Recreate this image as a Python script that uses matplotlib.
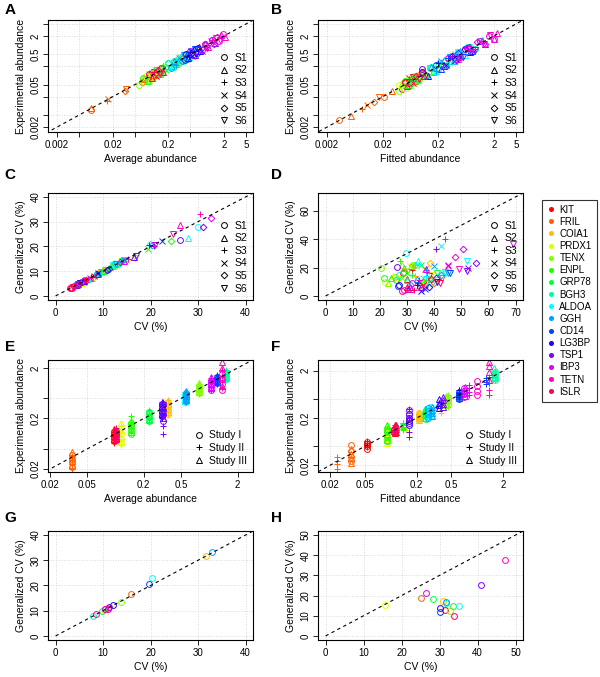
import numpy as np
import matplotlib.pyplot as plt
from matplotlib.lines import Line2D
from matplotlib.ticker import NullLocator

plt.rcParams['font.family'] = ['Liberation Sans', 'DejaVu Sans']

proteins = ['KIT', 'FRIL', 'COIA1', 'PRDX1', 'TENX', 'ENPL', 'GRP78', 'BGH3',
            'ALDOA', 'GGH', 'CD14', 'LG3BP', 'TSP1', 'IBP3', 'TETN', 'ISLR']
colors = ['#FF0000', '#FF6000', '#FFBF00', '#DFFF00', '#80FF00', '#20FF00',
          '#00FF40', '#00FF9F', '#00FFFF', '#009FFF', '#0040FF', '#2000FF',
          '#8000FF', '#DF00FF', '#FF00BF', '#FF0060']
samples = ['S1', 'S2', 'S3', 'S4', 'S5', 'S6']
studies = ['Study I', 'Study II', 'Study III']

# panel A: average vs experimental abundance (8 points per protein, samples cycle)
A_x = [[0.085, 0.09, 0.095, 0.1, 0.105, 0.11, 0.12, 0.13],
       [0.0081, 0.0083, 0.016, 0.0165, 0.034, 0.035, 0.066, 0.072],
       [0.3, 0.33, 0.36, 0.4, 0.44, 0.34, 0.38, 0.42],
       [0.08, 0.09, 0.1, 0.11, 0.12, 0.13, 0.095, 0.14],
       [0.06, 0.07, 0.08, 0.09, 0.1, 0.12, 0.14, 0.16],
       [0.07, 0.085, 0.1, 0.12, 0.14, 0.17, 0.2, 0.24],
       [0.12, 0.14, 0.16, 0.18, 0.2, 0.22, 0.25, 0.28],
       [0.25, 0.28, 0.3, 0.33, 0.36, 0.4, 0.44, 0.5],
       [0.2, 0.23, 0.26, 0.3, 0.34, 0.38, 0.42, 0.48],
       [0.22, 0.25, 0.28, 0.31, 0.35, 0.39, 0.43, 0.47],
       [0.4, 0.44, 0.48, 0.52, 0.56, 0.6, 0.65, 0.7],
       [0.42, 0.46, 0.5, 0.54, 0.58, 0.62, 0.68, 0.74],
       [0.5, 0.6, 0.7, 0.8, 0.9, 1.0, 1.2, 1.4],
       [0.8, 0.9, 1.0, 1.15, 1.3, 1.45, 1.6, 1.8],
       [0.9, 1.05, 1.2, 1.35, 1.5, 1.7, 1.9, 2.1],
       [0.09, 0.1, 0.11, 0.12, 0.13, 0.14, 0.15, 0.16]]
A_y = [[0.07, 0.11, 0.085, 0.12, 0.09, 0.135, 0.105, 0.15],
       [0.0076, 0.0086, 0.015, 0.017, 0.032, 0.036, 0.063, 0.074],
       [0.24, 0.4, 0.3, 0.5, 0.38, 0.27, 0.47, 0.34],
       [0.1, 0.07, 0.125, 0.088, 0.15, 0.105, 0.078, 0.17],
       [0.05, 0.085, 0.065, 0.115, 0.08, 0.15, 0.115, 0.2],
       [0.085, 0.068, 0.125, 0.1, 0.17, 0.135, 0.25, 0.2],
       [0.15, 0.11, 0.2, 0.15, 0.25, 0.18, 0.3, 0.24],
       [0.2, 0.33, 0.25, 0.4, 0.3, 0.48, 0.37, 0.6],
       [0.25, 0.19, 0.32, 0.25, 0.42, 0.31, 0.52, 0.4],
       [0.18, 0.3, 0.23, 0.37, 0.29, 0.46, 0.36, 0.56],
       [0.33, 0.52, 0.4, 0.63, 0.46, 0.74, 0.55, 0.85],
       [0.5, 0.37, 0.6, 0.45, 0.7, 0.52, 0.8, 0.62],
       [0.62, 0.48, 0.85, 0.65, 1.1, 0.82, 1.45, 1.15],
       [0.68, 1.05, 0.85, 1.35, 1.1, 1.7, 1.35, 2.1],
       [1.1, 0.85, 1.45, 1.15, 1.8, 1.45, 2.3, 1.85],
       [0.11, 0.08, 0.13, 0.1, 0.155, 0.115, 0.18, 0.13]]

# panel B: fitted vs experimental abundance
B_x = [[0.045, 0.05, 0.055, 0.06, 0.065, 0.07, 0.08, 0.09],
       [0.0033, 0.0055, 0.0085, 0.0105, 0.014, 0.017, 0.021, 0.03],
       [0.2, 0.25, 0.3, 0.35, 0.4, 0.45, 0.5, 0.55],
       [0.04, 0.05, 0.06, 0.07, 0.08, 0.09, 0.1, 0.12],
       [0.04, 0.045, 0.05, 0.06, 0.07, 0.08, 0.09, 0.11],
       [0.05, 0.06, 0.07, 0.085, 0.1, 0.12, 0.14, 0.16],
       [0.06, 0.07, 0.085, 0.1, 0.12, 0.14, 0.17, 0.2],
       [0.2, 0.25, 0.3, 0.4, 0.5, 0.7, 0.9, 1.2],
       [0.15, 0.18, 0.22, 0.26, 0.3, 0.35, 0.45, 0.6],
       [0.12, 0.15, 0.18, 0.22, 0.27, 0.33, 0.4, 0.5],
       [0.18, 0.22, 0.3, 0.38, 0.45, 0.55, 0.65, 0.8],
       [0.1, 0.13, 0.2, 0.28, 0.35, 0.45, 0.6, 0.75],
       [0.1, 0.25, 0.35, 0.5, 0.7, 0.9, 1.1, 1.4],
       [0.3, 0.45, 0.6, 0.8, 1.0, 1.3, 1.6, 2.0],
       [0.5, 0.7, 0.9, 1.1, 1.4, 1.7, 2.0, 2.3],
       [0.05, 0.055, 0.06, 0.07, 0.08, 0.09, 0.1, 0.11]]
B_y = [[0.035, 0.065, 0.045, 0.08, 0.055, 0.09, 0.065, 0.115],
       [0.0035, 0.0048, 0.0078, 0.011, 0.0135, 0.019, 0.02, 0.032],
       [0.16, 0.33, 0.24, 0.46, 0.32, 0.6, 0.4, 0.72],
       [0.05, 0.04, 0.075, 0.055, 0.1, 0.07, 0.13, 0.095],
       [0.032, 0.058, 0.04, 0.078, 0.055, 0.1, 0.07, 0.14],
       [0.065, 0.048, 0.09, 0.07, 0.13, 0.095, 0.18, 0.13],
       [0.05, 0.09, 0.068, 0.13, 0.095, 0.18, 0.135, 0.26],
       [0.16, 0.32, 0.24, 0.52, 0.4, 0.9, 0.72, 1.5],
       [0.19, 0.14, 0.28, 0.2, 0.38, 0.27, 0.58, 0.48],
       [0.095, 0.19, 0.14, 0.29, 0.21, 0.42, 0.31, 0.62],
       [0.23, 0.17, 0.38, 0.3, 0.57, 0.42, 0.82, 0.65],
       [0.13, 0.1, 0.25, 0.22, 0.45, 0.35, 0.75, 0.6],
       [0.17, 0.2, 0.45, 0.4, 0.9, 0.7, 1.4, 1.1],
       [0.38, 0.36, 0.78, 0.62, 1.3, 1.05, 2.0, 1.6],
       [0.4, 0.85, 0.72, 1.35, 1.1, 2.1, 1.6, 2.5],
       [0.06, 0.045, 0.075, 0.058, 0.1, 0.075, 0.125, 0.095]]

# panel C: CV vs generalized CV (one value per sample S1..S6)
C_x = [[3.5, 4.2, 5.0, 5.8, 6.5, 4.8], [6.2, 7.5, 8.8, 10.5, 12.0, 9.5],
       [9.0, 11.5, 13.5, 14.8, 10.2, 12.5], [4.0, 5.5, 7.0, 13.8, 15.0, 12.6],
       [7.8, 9.5, 11.0, 12.8, 14.2, 16.8], [10.5, 11.8, 12.5, 19.4, 24.3, 13.2],
       [8.5, 10.0, 11.5, 12.2, 13.0, 14.0], [5.0, 6.8, 9.0, 12.0, 13.5, 14.5],
       [30.0, 27.8, 9.3, 13.0, 19.8, 12.0], [8.8, 9.0, 13.8, 14.5, 20.3, 12.8],
       [5.5, 8.7, 19.6, 22.4, 11.2, 6.2], [4.5, 6.0, 7.5, 9.0, 10.8, 5.2],
       [26.2, 16.5, 20.7, 4.6, 31.0, 16.9], [3.8, 14.3, 15.2, 7.2, 32.8, 20.9],
       [3.2, 26.2, 30.5, 6.5, 13.5, 24.8], [3.0, 4.8, 6.4, 8.0, 5.8, 3.6]]
C_y = [[3.4, 4.3, 5.1, 5.7, 6.6, 4.9], [6.3, 7.4, 9.0, 10.4, 12.2, 9.7],
       [9.1, 11.8, 13.6, 14.5, 10.4, 12.8], [4.2, 5.4, 7.1, 14.0, 14.6, 12.4],
       [7.6, 9.6, 11.2, 12.5, 14.0, 15.5], [10.6, 11.9, 12.2, 18.8, 22.2, 13.0],
       [8.4, 10.2, 11.4, 12.3, 12.8, 14.1], [5.1, 6.9, 8.8, 12.1, 13.4, 14.4],
       [28.0, 23.5, 9.1, 13.2, 21.0, 12.3], [8.9, 8.8, 13.6, 14.6, 20.5, 13.0],
       [5.6, 8.9, 20.5, 22.0, 11.0, 6.0], [4.6, 6.1, 7.6, 9.2, 10.6, 5.3],
       [22.7, 15.8, 20.0, 4.5, 28.0, 16.0], [3.9, 14.2, 15.0, 7.3, 31.5, 20.5],
       [3.3, 28.5, 33.0, 6.6, 13.8, 25.0], [3.1, 4.7, 6.3, 8.1, 5.9, 3.5]]

# panel D
D_x = [[28.5, 30, 32, 34.5, 36, 38], [29, 31.5, 33, 36.5, 40, 43],
       [25.5, 28, 33, 36, 38.5, 41], [22, 25, 27, 31, 35, 39],
       [20.5, 23, 26.5, 28, 32, 35], [21.5, 24, 27.5, 30, 33, 37],
       [26, 29, 32, 35, 38, 41], [27, 30, 33, 36, 39, 44],
       [29.7, 34, 37, 42.5, 44, 52.2], [31, 33.5, 37, 40, 42.5, 45],
       [26.5, 31, 34, 36.5, 40.5, 46], [27, 30.5, 33.5, 35, 38, 41],
       [26.2, 35, 40.7, 52.6, 55.5, 52], [32, 37, 44, 45, 50.7, 69],
       [29, 31.5, 34.5, 45, 47.7, 49], [28, 30, 32.5, 36, 39, 42]]
D_y = [[16, 12, 18, 7, 10, 14], [17, 21, 14, 19, 9, 13],
       [13.5, 22, 14, 10, 23, 11], [10, 14, 12, 21, 6, 15],
       [19.5, 9.5, 12, 13, 22, 8], [12.5, 13, 25, 16, 22, 9],
       [11, 20, 15, 22, 12, 16], [15, 11, 22, 13, 9, 17],
       [30.5, 25, 14, 35, 16, 24.8], [8, 12, 18, 21, 15, 16],
       [7, 6, 9, 5, 13, 16.5], [7.5, 5, 8, 3.5, 6, 10],
       [20.7, 6, 33.3, 20, 23, 17.7], [9, 19, 40, 21, 33, 37],
       [4, 5, 11, 22, 27.6, 19], [3.5, 6, 4.5, 8, 12, 9]]

# panel E: average abundance per protein, 12 replicates (4 per study)
E_x = [0.097, 0.034, 0.36, 0.115, 0.78, 0.147, 0.23, 1.5,
       0.55, 0.57, 1.22, 0.31, 0.32, 1.05, 1.36, 0.1]
E_y = [[0.072, 0.085, 0.098, 0.11, 0.066, 0.08, 0.095, 0.12, 0.078, 0.09, 0.104, 0.125],
       [0.022, 0.027, 0.032, 0.038, 0.02, 0.025, 0.03, 0.036, 0.024, 0.029, 0.034, 0.043],
       [0.25, 0.3, 0.36, 0.42, 0.23, 0.28, 0.34, 0.46, 0.27, 0.32, 0.38, 0.44],
       [0.065, 0.08, 0.1, 0.13, 0.06, 0.075, 0.11, 0.15, 0.07, 0.09, 0.12, 0.165],
       [0.65, 0.72, 0.8, 0.88, 0.62, 0.7, 0.85, 0.95, 0.68, 0.76, 0.9, 1.0],
       [0.1, 0.12, 0.14, 0.16, 0.105, 0.13, 0.17, 0.22, 0.11, 0.125, 0.15, 0.18],
       [0.18, 0.21, 0.24, 0.27, 0.17, 0.2, 0.25, 0.29, 0.19, 0.22, 0.23, 0.28],
       [1.2, 1.35, 1.5, 1.65, 1.15, 1.3, 1.6, 1.85, 1.25, 1.4, 1.55, 1.75],
       [0.42, 0.5, 0.56, 0.62, 0.4, 0.47, 0.58, 0.66, 0.45, 0.52, 0.6, 0.64],
       [0.44, 0.52, 0.58, 0.65, 0.42, 0.5, 0.6, 0.68, 0.46, 0.55, 0.62, 0.7],
       [1.0, 1.1, 1.22, 1.35, 0.98, 1.15, 1.28, 1.45, 1.05, 1.18, 1.3, 1.4],
       [0.22, 0.27, 0.32, 0.38, 0.2, 0.25, 0.3, 0.42, 0.24, 0.29, 0.35, 0.4],
       [0.18, 0.24, 0.3, 0.38, 0.1, 0.14, 0.22, 0.42, 0.2, 0.27, 0.33, 0.4],
       [0.75, 0.85, 0.98, 1.1, 0.72, 0.9, 1.05, 1.25, 0.8, 0.95, 1.15, 1.3],
       [0.75, 0.95, 1.2, 1.5, 0.8, 1.05, 1.4, 1.8, 0.9, 1.3, 2.0, 2.6],
       [0.075, 0.088, 0.1, 0.115, 0.07, 0.085, 0.105, 0.13, 0.08, 0.092, 0.11, 0.12]]

# panel F: fitted abundance per protein and study, 4 replicates per study
F_x = [[0.053, 0.053, 0.113], [0.035, 0.024, 0.035], [0.21, 0.38, 0.21],
       [0.09, 0.15, 0.09], [0.46, 0.46, 0.44], [0.09, 0.138, 0.092],
       [0.255, 0.14, 0.25], [1.6, 1.6, 1.58], [0.29, 0.27, 0.28],
       [0.27, 0.61, 0.3], [0.61, 1.28, 0.62], [0.164, 0.62, 0.36],
       [0.164, 0.164, 0.4], [0.7, 0.8, 0.72], [1.0, 1.37, 1.37],
       [0.11, 0.113, 0.115]]
F_y = [[0.045, 0.05, 0.056, 0.062, 0.048, 0.055, 0.06, 0.065, 0.095, 0.105, 0.12, 0.14],
       [0.025, 0.03, 0.04, 0.055, 0.017, 0.021, 0.025, 0.03, 0.022, 0.028, 0.034, 0.045],
       [0.19, 0.21, 0.23, 0.26, 0.25, 0.3, 0.38, 0.46, 0.18, 0.2, 0.22, 0.25],
       [0.07, 0.085, 0.1, 0.12, 0.11, 0.13, 0.15, 0.17, 0.06, 0.08, 0.11, 0.14],
       [0.4, 0.45, 0.5, 0.55, 0.35, 0.42, 0.5, 0.6, 0.38, 0.44, 0.52, 0.58],
       [0.065, 0.08, 0.1, 0.12, 0.11, 0.125, 0.14, 0.155, 0.07, 0.09, 0.115, 0.14],
       [0.19, 0.22, 0.26, 0.3, 0.12, 0.13, 0.15, 0.16, 0.2, 0.24, 0.28, 0.31],
       [1.25, 1.4, 1.6, 1.85, 1.3, 1.5, 1.7, 2.0, 1.4, 1.6, 1.9, 2.3],
       [0.22, 0.26, 0.3, 0.34, 0.2, 0.24, 0.28, 0.32, 0.23, 0.27, 0.31, 0.35],
       [0.2, 0.24, 0.28, 0.33, 0.55, 0.62, 0.7, 0.8, 0.22, 0.26, 0.3, 0.34],
       [0.5, 0.56, 0.62, 0.7, 1.05, 1.15, 1.25, 1.4, 0.52, 0.58, 0.66, 0.75],
       [0.14, 0.17, 0.2, 0.24, 0.55, 0.6, 0.68, 0.78, 0.32, 0.37, 0.42, 0.5],
       [0.16, 0.2, 0.24, 0.3, 0.08, 0.1, 0.2, 0.31, 0.34, 0.4, 0.48, 0.57],
       [0.55, 0.65, 0.75, 0.85, 0.6, 0.7, 0.85, 1.0, 0.58, 0.68, 0.78, 0.9],
       [0.6, 0.75, 0.95, 1.2, 0.62, 0.8, 1.1, 1.5, 1.3, 1.9, 2.5, 3.1],
       [0.095, 0.1, 0.11, 0.12, 0.1, 0.11, 0.125, 0.14, 0.1, 0.115, 0.13, 0.14]]

# panels G and H: one point per protein
G_x = [10.5, 15.9, 31.7, 10.2, 13.7, 11.0, 9.7, 7.9, 20.3, 33.0, 19.6, 12.1, 11.2, 10.5, 8.6, 11.0]
G_y = [10.6, 16.6, 31.6, 10.3, 13.6, 11.0, 9.7, 7.8, 23.0, 33.2, 20.5, 12.1, 11.5, 10.8, 8.5, 10.8]
H_x = [31.5, 25.2, 30.8, 15.7, 32.8, 33.4, 28.3, 31.6, 35.2, 31.8, 30.2, 30.2, 41.0, 26.5, 47.3, 33.7]
H_y = [13.0, 18.9, 17.5, 15.4, 12.5, 14.9, 18.3, 16.5, 14.9, 16.8, 11.9, 13.8, 25.3, 21.5, 37.5, 9.8]

sample_markers = ['o', '^', '+', 'x', 'D', 'v']
study_markers = ['o', '+', '^']
MS = 4.2
MEW = 0.7


def pt(ax, x, y, m, c):
    size = MS * 0.8 if m == 'D' else MS
    ax.plot(x, y, ls='none', marker=m, ms=size, mfc='none', mec=c, mew=MEW)


def style(ax, lim, log=False):
    if log:
        ax.set_xscale('log')
        ax.set_yscale('log')
    ax.plot([1e-4, 100], [1e-4, 100], color='black', ls=(0, (3, 3)), lw=0.8, zorder=3)
    ax.set_xlim(lim)
    ax.set_ylim(lim)
    ax.grid(True, color='#d8d8d8', ls=':', lw=0.7)
    ax.set_axisbelow(True)
    for s in ax.spines.values():
        s.set_linewidth(0.8)
    ax.tick_params(direction='out', length=3.5, width=0.6, labelsize=7, pad=2)


def ticks(ax, xt, xl, yt, yl):
    ax.set_xticks(xt)
    ax.set_xticklabels(xl)
    ax.set_yticks(yt)
    ax.set_yticklabels(yl)
    ax.xaxis.set_minor_locator(NullLocator())
    ax.yaxis.set_minor_locator(NullLocator())
    plt.setp(ax.get_yticklabels(), rotation=90, va='center')


def sample_legend(ax):
    h = [Line2D([], [], ls='none', marker=m, mfc='none', mec='black', color='black',
                ms=MS * 0.8 if m == 'D' else MS, mew=MEW) for m in sample_markers]
    ax.legend(h, samples, loc='lower right', frameon=False, fontsize=7.5,
              handlelength=1.0, handletextpad=0.5, labelspacing=0.25, borderaxespad=0.2)


def study_legend(ax):
    h = [Line2D([], [], ls='none', marker=m, mfc='none', mec='black', color='black',
                ms=MS, mew=MEW) for m in study_markers]
    ax.legend(h, studies, loc='lower right', frameon=False, fontsize=7.5,
              handlelength=1.0, handletextpad=0.5, labelspacing=0.25, borderaxespad=0.2)


fig = plt.figure(figsize=(6, 6.77), dpi=100)
L, R, W = 0.08, 0.53, 0.342
axA = fig.add_axes([L, 0.805, W, 0.1654])
axB = fig.add_axes([R, 0.805, W, 0.1654])
axC = fig.add_axes([L, 0.557, W, 0.158])
axD = fig.add_axes([R, 0.557, W, 0.158])
axE = fig.add_axes([L, 0.303, W, 0.1654])
axF = fig.add_axes([R, 0.303, W, 0.1654])
axG = fig.add_axes([L, 0.0547, W, 0.161])
axH = fig.add_axes([R, 0.0547, W, 0.161])

# A, B
for ax, X, Y, lab in [(axA, A_x, A_y, 'Average abundance'), (axB, B_x, B_y, 'Fitted abundance')]:
    for p in range(len(proteins)):
        for i in range(len(X[p])):
            pt(ax, X[p][i], Y[p][i], sample_markers[i % 6], colors[p])
    style(ax, (0.00138, 6.7), log=True)
    ticks(ax, [0.002, 0.005, 0.02, 0.05, 0.2, 0.5, 2, 5],
          ['0.002', '', '0.02', '', '0.2', '', '2', '5'],
          [0.002, 0.005, 0.02, 0.05, 0.2, 0.5, 2, 5],
          ['0.002', '', '', '0.05', '', '0.5', '2', ''])
    ax.set_xlabel(lab, fontsize=7.5, labelpad=3)
    ax.set_ylabel('Experimental abundance', fontsize=7.5, labelpad=3)
    sample_legend(ax)

# C, D
for ax, X, Y, lim, xt, yt in [(axC, C_x, C_y, (-1.6, 41.6), range(0, 41, 10), range(0, 41, 10)),
                              (axD, D_x, D_y, (-2.8, 72.8), range(0, 71, 10), range(0, 61, 20))]:
    for p in range(len(proteins)):
        for i in range(len(X[p])):
            pt(ax, X[p][i], Y[p][i], sample_markers[i % 6], colors[p])
    style(ax, lim)
    ticks(ax, list(xt), [str(v) for v in xt], list(yt), [str(v) for v in yt])
    ax.set_xlabel('CV (%)', fontsize=7.5, labelpad=3)
    ax.set_ylabel('Generalized CV (%)', fontsize=7.5, labelpad=3)
    sample_legend(ax)

# E
for p in range(len(proteins)):
    for i, v in enumerate(E_y[p]):
        pt(axE, E_x[p], v, study_markers[i // 4], colors[p])
style(axE, (0.0175, 2.9), log=True)
axE.set_xlim(0.019, 2.94)
# F
for p in range(len(proteins)):
    for i, v in enumerate(F_y[p]):
        pt(axF, F_x[p][i // 4], v, study_markers[i // 4], colors[p])
style(axF, (0.0145, 3.4), log=True)
for ax, lab in [(axE, 'Average abundance'), (axF, 'Fitted abundance')]:
    ticks(ax, [0.02, 0.05, 0.2, 0.5, 2], ['0.02', '0.05', '0.2', '0.5', '2'],
          [0.02, 0.05, 0.2, 0.5, 2], ['0.02', '', '0.2', '', '2'])
    ax.set_xlabel(lab, fontsize=7.5, labelpad=3)
    ax.set_ylabel('Experimental abundance', fontsize=7.5, labelpad=3)
    study_legend(ax)

# G, H
for ax, X, Y, lim, t in [(axG, G_x, G_y, (-1.6, 41.6), range(0, 41, 10)),
                         (axH, H_x, H_y, (-2.0, 52.0), range(0, 51, 10))]:
    for p in range(len(proteins)):
        pt(ax, X[p], Y[p], 'o', colors[p])
    style(ax, lim)
    ticks(ax, list(t), [str(v) for v in t], list(t), [str(v) for v in t])
    ax.set_xlabel('CV (%)', fontsize=7.5, labelpad=3)
    ax.set_ylabel('Generalized CV (%)', fontsize=7.5, labelpad=3)

# panel letters
for lab, x, y in [('A', 0.008, 0.996), ('B', 0.452, 0.996), ('C', 0.008, 0.752), ('D', 0.452, 0.752),
                  ('E', 0.008, 0.498), ('F', 0.452, 0.498), ('G', 0.008, 0.245), ('H', 0.452, 0.245)]:
    fig.text(x, y, lab, fontsize=11, fontweight='bold', va='top', ha='left')

# protein colour legend
handles = [Line2D([], [], ls='none', marker='o', ms=2.6, color=c) for c in colors]
leg = fig.legend(handles, proteins, loc='upper left', bbox_to_anchor=(0.903, 0.705),
                 frameon=True, fancybox=False, fontsize=7, handlelength=0.8,
                 handletextpad=0.5, labelspacing=0.22, borderpad=0.5, borderaxespad=0)
leg.get_frame().set_edgecolor('black')
leg.get_frame().set_linewidth(0.8)

fig.savefig('out.png', dpi=100)
